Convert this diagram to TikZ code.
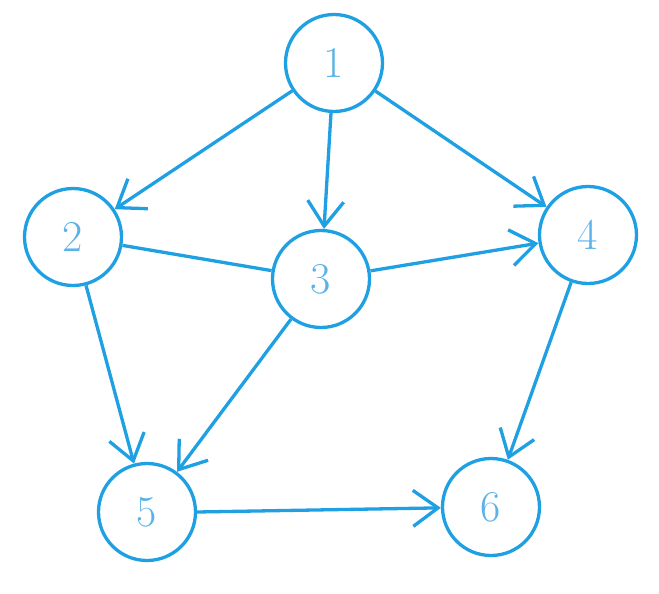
\documentclass[tikz,border=0pt]{standalone}
\usepackage{fontspec}
\setmainfont{Latin Modern Roman}
\usetikzlibrary{arrows.meta}
\definecolor{edgeblue}{RGB}{30,160,226}
\definecolor{textblue}{RGB}{90,178,232}
\begin{document}
\begin{tikzpicture}[x=1pt,y=-1pt,
  vert/.style={circle,draw=edgeblue,line width=3.3pt,minimum size=97pt,inner sep=0pt,
    text=textblue,font=\fontsize{44}{48}\selectfont},
  arc/.style={draw=edgeblue,line width=3.3pt,-{Straight Barb[length=25pt,width=36pt,line width=3.3pt]}},
  plain/.style={draw=edgeblue,line width=3.3pt}]
\useasboundingbox (0,0) rectangle (659,594);
\node[vert] (n1) at (334,63) {1};
\node[vert] (n2) at (73,237) {2};
\node[vert] (n3) at (321,279) {3};
\node[vert] (n4) at (588,235) {4};
\node[vert] (n5) at (147,512) {5};
\node[vert] (n6) at (491,507) {6};
\draw[arc] (n1) -- (n2);
\draw[arc] (n1) -- (n3);
\draw[arc] (n1) -- (n4);
\draw[plain] (n2) -- (n3);
\draw[arc] (n3) -- (n4);
\draw[arc] (n2) -- (n5);
\draw[arc] (n3) -- (n5);
\draw[arc] (n4) -- (n6);
\draw[arc] (n5.east) -- (n6);
\end{tikzpicture}
\end{document}
